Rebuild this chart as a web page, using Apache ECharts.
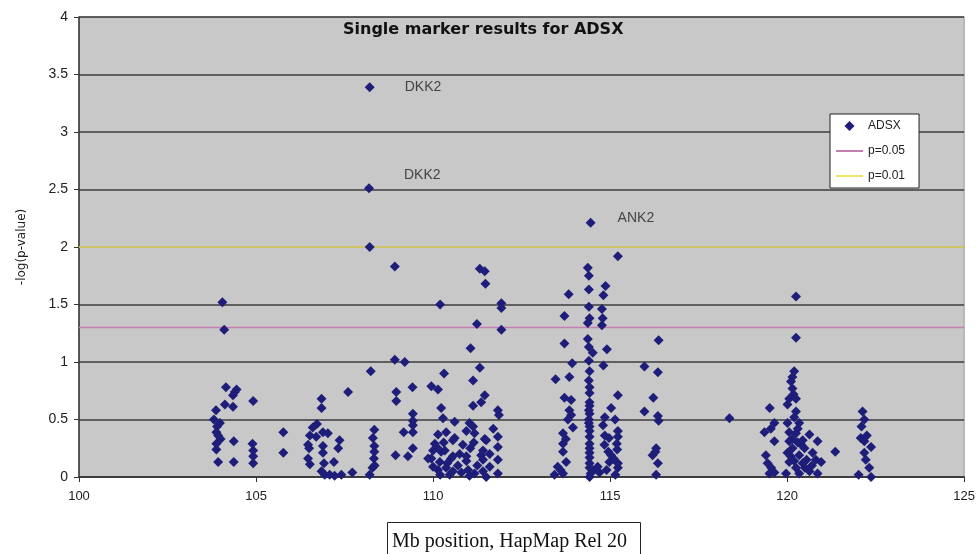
<!DOCTYPE html>
<html>
<head>
<meta charset="utf-8">
<title>Single marker results for ADSX</title>
<script src="https://cdn.jsdelivr.net/npm/echarts@6/dist/echarts.min.js"></script>
<style>
  html, body { margin: 0; padding: 0; background: #fff; }
  #chart { width: 978px; height: 554px; }
</style>
</head>
<body>
<div id="chart"></div>
<script>
// [Mb position, -log(p)], grouped by cluster
const cluster104 = [
  [104.05, 1.52], [104.1, 1.28], [104.15, 0.78], [104.45, 0.76], [104.35, 0.71], [104.12, 0.63],
  [104.35, 0.61], [104.92, 0.66], [103.87, 0.58], [103.81, 0.5], [103.98, 0.47], [103.88, 0.39],
  [103.93, 0.36], [103.88, 0.29], [103.88, 0.24], [104.37, 0.31], [104.9, 0.29], [104.92, 0.23],
  [104.92, 0.18], [104.92, 0.12], [103.93, 0.13], [104.37, 0.13], [103.9, 0.44], [104.0, 0.33],
  [104.4, 0.74]
]
const cluster106 = [
  [105.77, 0.39], [105.77, 0.21], [106.72, 0.46], [106.52, 0.36], [106.7, 0.35], [106.89, 0.39],
  [107.03, 0.38], [106.47, 0.28], [106.5, 0.25], [106.89, 0.27], [107.36, 0.32], [107.32, 0.25],
  [106.89, 0.21], [106.47, 0.16], [106.52, 0.11], [107.2, 0.13], [106.85, 0.05], [106.94, 0.02],
  [107.08, 0.02], [107.22, 0.01], [107.41, 0.02], [107.72, 0.04], [106.85, 0.68], [106.85, 0.6],
  [107.6, 0.74], [106.6, 0.43], [106.92, 0.12]
]
const cluster108 = [
  [108.21, 3.39], [108.19, 2.51], [108.21, 2.0], [108.92, 1.83], [108.24, 0.92], [108.92, 1.02],
  [109.2, 1.0], [108.96, 0.74], [108.96, 0.66], [109.42, 0.78], [109.43, 0.55], [109.43, 0.49],
  [109.17, 0.39], [109.43, 0.39], [109.43, 0.25], [109.29, 0.18], [108.94, 0.19], [108.21, 0.02],
  [108.34, 0.41], [108.34, 0.27], [108.34, 0.22], [108.35, 0.1], [108.29, 0.08], [108.3, 0.34],
  [109.43, 0.45], [108.33, 0.16]
]
const cluster110 = [
  [111.32, 1.81], [111.46, 1.79], [111.48, 1.68], [110.2, 1.5], [111.93, 1.51], [111.93, 1.47],
  [111.24, 1.33], [111.93, 1.28], [111.06, 1.12], [111.32, 0.95], [110.31, 0.9], [109.95, 0.79],
  [110.14, 0.76], [111.13, 0.84], [111.46, 0.71], [111.36, 0.65], [111.13, 0.62], [110.23, 0.6],
  [111.83, 0.58], [111.86, 0.54], [110.28, 0.51], [110.61, 0.48], [111.03, 0.47], [111.13, 0.44],
  [110.94, 0.4], [111.17, 0.38], [110.14, 0.37], [110.37, 0.39], [110.05, 0.29], [110.56, 0.32],
  [110.84, 0.28], [111.46, 0.33], [111.83, 0.35], [111.83, 0.26], [110.0, 0.23], [110.33, 0.23],
  [111.41, 0.23], [109.95, 0.16], [110.56, 0.18], [111.41, 0.15], [111.83, 0.15], [110.19, 0.13],
  [110.94, 0.14], [110.14, 0.06], [110.37, 0.08], [110.56, 0.05], [110.8, 0.04], [110.99, 0.06],
  [111.17, 0.03], [111.41, 0.05], [111.83, 0.03], [110.2, 0.02], [110.47, 0.02], [111.03, 0.01],
  [111.5, 0.0], [111.6, 0.09], [109.86, 0.16], [110.61, 0.34], [111.5, 0.32], [110.23, 0.22],
  [110.51, 0.16], [110.94, 0.18], [111.36, 0.19], [110.1, 0.26], [110.4, 0.12], [110.7, 0.1],
  [111.05, 0.25], [111.25, 0.1], [111.6, 0.2], [110.0, 0.09], [110.3, 0.3], [110.75, 0.2],
  [111.15, 0.3], [111.7, 0.42]
]
const cluster114 = [
  [114.45, 2.21], [115.22, 1.92], [114.37, 1.82], [114.4, 1.75], [114.87, 1.66], [114.4, 1.63],
  [113.83, 1.59], [114.81, 1.58], [114.4, 1.48], [114.77, 1.46], [113.71, 1.4], [114.42, 1.38],
  [114.79, 1.38], [114.37, 1.34], [114.77, 1.32], [113.71, 1.16], [114.37, 1.2], [114.4, 1.13],
  [114.51, 1.08], [114.91, 1.11], [113.93, 0.99], [114.4, 1.01], [114.81, 0.97], [113.46, 0.85],
  [113.85, 0.87], [114.42, 0.92], [114.4, 0.84], [113.71, 0.69], [113.9, 0.67], [114.42, 0.73],
  [114.42, 0.65], [115.22, 0.71], [113.85, 0.58], [114.4, 0.58], [115.03, 0.6], [113.81, 0.5],
  [114.4, 0.5], [115.14, 0.5], [113.95, 0.43], [114.42, 0.44], [115.22, 0.4], [113.67, 0.38],
  [114.42, 0.35], [114.97, 0.34], [113.67, 0.29], [114.42, 0.29], [114.84, 0.28], [115.19, 0.29],
  [113.67, 0.22], [114.42, 0.21], [115.03, 0.19], [113.76, 0.13], [113.52, 0.09], [113.43, 0.02],
  [114.42, 0.12], [114.51, 0.06], [114.42, 0.0], [114.65, 0.09], [114.98, 0.13], [115.22, 0.12],
  [115.22, 0.08], [113.67, 0.03], [114.42, 0.4], [114.42, 0.55], [114.42, 0.62], [114.42, 0.78],
  [114.42, 0.25], [114.42, 0.17], [114.42, 0.08], [114.45, 0.03], [114.4, 0.47], [114.8, 0.45],
  [114.85, 0.36], [114.95, 0.22], [115.1, 0.16], [115.2, 0.24], [114.7, 0.04], [114.9, 0.06],
  [115.15, 0.02], [113.6, 0.06], [113.75, 0.33], [113.9, 0.54], [114.85, 0.52], [115.22, 0.35]
]
const cluster116 = [
  [116.37, 1.19], [115.97, 0.96], [116.35, 0.91], [116.22, 0.69], [115.97, 0.57], [116.35, 0.53],
  [116.37, 0.49], [116.3, 0.25], [116.2, 0.19], [116.35, 0.12], [116.3, 0.02], [116.28, 0.22]
]
const cluster118 = [[118.37, 0.51]]
const cluster120 = [
  [120.25, 1.57], [120.25, 1.21], [120.2, 0.92], [120.15, 0.87], [120.11, 0.83], [120.15, 0.77],
  [120.06, 0.68], [120.25, 0.68], [120.01, 0.63], [119.51, 0.6], [120.25, 0.57], [119.64, 0.47],
  [119.36, 0.39], [119.54, 0.42], [120.01, 0.47], [120.34, 0.47], [120.06, 0.39], [120.25, 0.38],
  [120.63, 0.37], [119.64, 0.31], [120.06, 0.31], [120.44, 0.32], [120.86, 0.31], [120.15, 0.25],
  [120.49, 0.25], [119.4, 0.19], [120.01, 0.21], [120.34, 0.19], [120.72, 0.21], [120.81, 0.15],
  [119.45, 0.12], [120.06, 0.13], [120.44, 0.12], [119.5, 0.03], [119.64, 0.04], [119.97, 0.03],
  [120.34, 0.03], [120.63, 0.05], [120.86, 0.03], [120.25, 0.08], [120.15, 0.33], [120.96, 0.13],
  [121.36, 0.22], [120.2, 0.52], [120.3, 0.42], [120.1, 0.18], [120.4, 0.28], [120.55, 0.15],
  [120.2, 0.14], [120.5, 0.08], [120.7, 0.1], [119.55, 0.08], [120.3, 0.3], [120.18, 0.72]
]
const cluster122 = [
  [122.13, 0.57], [122.18, 0.5], [122.08, 0.34], [122.18, 0.31], [122.37, 0.26], [122.18, 0.21],
  [122.22, 0.15], [122.32, 0.08], [122.02, 0.02], [122.37, 0.0], [122.1, 0.44], [122.25, 0.36]
]

const geneNames = ['DKK2', 'DKK2', 'ANK2']
const genePoints = [[108.21, 3.39], [108.19, 2.51], [114.45, 2.21]]

const thresholdP05 = 1.3
const thresholdP01 = 2.0
const xRange = [100, 125]
const yTicks = [0, 0.5, 1, 1.5, 2, 2.5, 3, 3.5, 4]

const adsx = [].concat(cluster104, cluster106, cluster108, cluster110, cluster114,
  cluster116, cluster118, cluster120, cluster122)

const labelOffsets = [[30, 0], [30, -13], [22, -5]]
const hiddenSymbol = { itemStyle: { opacity: 0 } }
const diamondIcon = 'path://M5,0 L10,5 L5,10 L0,5 Z'

const chart = echarts.init(document.getElementById('chart'))

chart.setOption({
  animation: false,
  textStyle: { fontFamily: 'Liberation Sans, Arial, sans-serif' },
  title: {
    text: 'Single marker results for ADSX',
    left: 338,
    top: 17,
    textStyle: { fontSize: 16, fontWeight: 'bold', color: '#111', fontFamily: 'DejaVu Sans' },
  },
  grid: {
    left: 79, right: 13, top: 17, bottom: 77,
    show: true,
    backgroundColor: '#c8c8c8',
    borderColor: '#9a9a9a',
    borderWidth: 1,
  },
  legend: {
    orient: 'vertical',
    left: 830,
    top: 114,
    itemWidth: 27,
    itemHeight: 10,
    itemGap: 13,
    padding: [6, 14, 6, 5],
    symbolKeepAspect: true,
    backgroundColor: '#fff',
    borderColor: '#222',
    borderWidth: 1,
    borderRadius: 0,
    textStyle: { fontSize: 12, color: '#222' },
    data: [
      { name: 'ADSX', icon: diamondIcon },
      Object.assign({ name: 'p=0.05' }, hiddenSymbol),
      Object.assign({ name: 'p=0.01' }, hiddenSymbol),
    ],
  },
  xAxis: {
    type: 'value',
    min: xRange[0],
    max: xRange[1],
    interval: 5,
    axisLine: { lineStyle: { color: '#333', width: 1.5 } },
    axisTick: { show: true, length: 5, lineStyle: { color: '#333' } },
    axisLabel: { fontSize: 13, color: '#222', margin: 13 },
    splitLine: { show: false },
  },
  yAxis: {
    type: 'value',
    min: yTicks[0],
    max: yTicks[yTicks.length - 1],
    interval: 0.5,
    name: '-log(p-value)',
    nameLocation: 'middle',
    nameGap: 51,
    nameTextStyle: { fontSize: 12, color: '#222', fontFamily: 'DejaVu Sans' },
    axisLine: { show: true, lineStyle: { color: '#333', width: 1.5 } },
    axisTick: { show: true, length: 5, lineStyle: { color: '#333' } },
    axisLabel: { fontSize: 14, color: '#222', margin: 11 },
    splitLine: { show: true, lineStyle: { color: '#3c3c3c', width: 1.5 } },
  },
  graphic: [
    {
      type: 'rect',
      left: 387,
      top: 522,
      shape: { width: 253, height: 40 },
      style: { fill: '#fff', stroke: '#222', lineWidth: 1 },
    },
    {
      type: 'text',
      left: 392,
      top: 532,
      style: {
        text: 'Mb position, HapMap Rel 20',
        font: '20px "Liberation Serif", "Times New Roman", serif',
        fill: '#111',
      },
    },
  ],
  series: [
    {
      name: 'p=0.05',
      type: 'line',
      symbol: 'none',
      z: 1,
      lineStyle: { color: '#c47fb0', width: 1.5 },
      itemStyle: { color: '#c47fb0' },
      data: [[xRange[0], thresholdP05], [xRange[1], thresholdP05]],
    },
    {
      name: 'p=0.01',
      type: 'line',
      symbol: 'none',
      z: 1,
      lineStyle: { color: '#f2e46a', width: 1.5 },
      itemStyle: { color: '#f2e46a' },
      data: [[xRange[0], thresholdP01], [xRange[1], thresholdP01]],
    },
    {
      name: 'ADSX',
      type: 'scatter',
      symbol: 'diamond',
      symbolSize: 10,
      symbolKeepAspect: true,
      z: 3,
      itemStyle: { color: '#1e1e7a', opacity: 1 },
      data: adsx,
    },
    {
      name: 'genes',
      type: 'scatter',
      symbolSize: 0,
      silent: true,
      z: 4,
      data: genePoints.map((p, i) => ({
        value: p,
        label: {
          show: true,
          position: 'right',
          distance: 5,
          offset: labelOffsets[i],
          formatter: geneNames[i],
          fontSize: 14,
          color: '#222',
        },
      })),
    },
  ],
})
</script>
</body>
</html>
